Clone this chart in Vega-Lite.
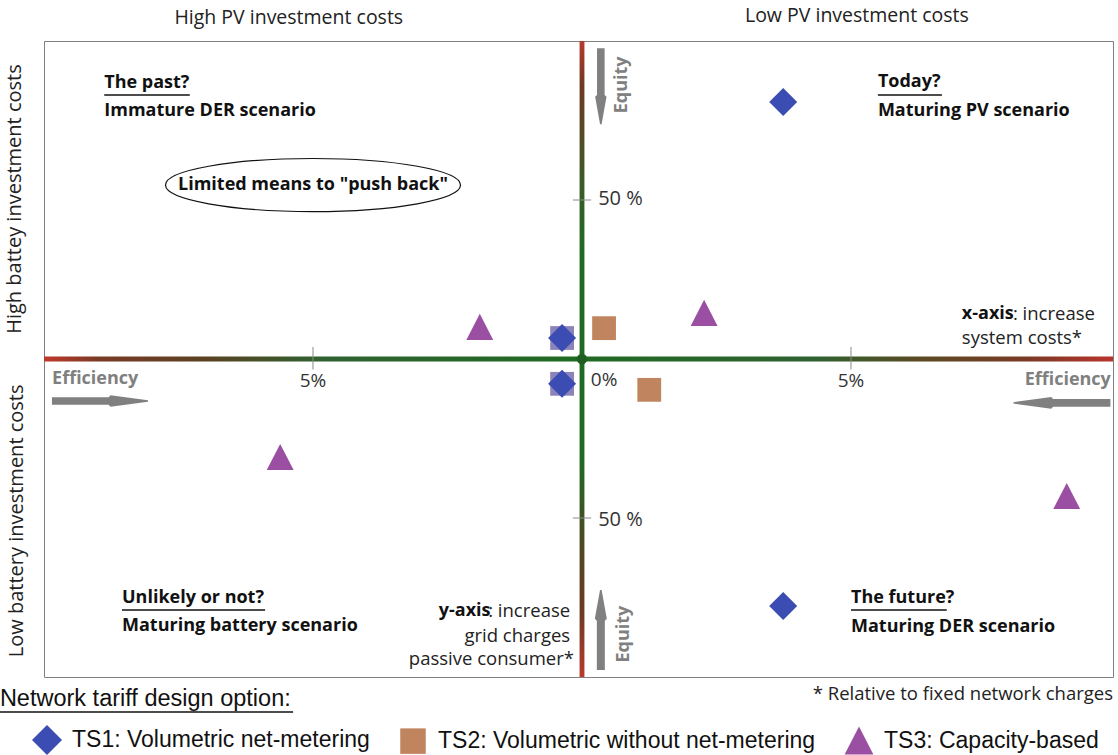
{
  "$schema": "https://vega.github.io/schema/vega-lite/v6.json",
  "width": 1069,
  "height": 636,
  "autosize": {"type": "none"},
  "padding": {"left": 44, "top": 41, "right": 5, "bottom": 78},
  "background": "white",
  "config": {"view": {"stroke": "#808080", "strokeWidth": 1}, "font": "Open Sans"},
  "encoding": {
    "x": {"field": "x", "type": "quantitative", "scale": {"domain": [-10, 9.87], "nice": false, "zero": false}, "axis": null},
    "y": {"field": "y", "type": "quantitative", "scale": {"domain": [-100, 100], "nice": false, "zero": false}, "axis": null}
  },
  "layer": [
    {
      "data": {"values": [{"x": -10, "x2": 9.87, "y": -0.8, "y2": 0.8}]},
      "mark": {"type": "rect", "fill": {"gradient": "linear", "x1": 0, "x2": 1, "y1": 0, "y2": 0, "stops": [
        {"offset": 0, "color": "#c0392b"}, {"offset": 0.05, "color": "#7a3a25"}, {"offset": 0.15, "color": "#5a4122"},
        {"offset": 0.26, "color": "#2f6130"}, {"offset": 0.5, "color": "#1f6a22"}, {"offset": 0.72, "color": "#2f6130"},
        {"offset": 0.82, "color": "#5a4a22"}, {"offset": 0.92, "color": "#7a3a25"}, {"offset": 1, "color": "#b8342c"}]}},
      "encoding": {"x2": {"field": "x2"}, "y2": {"field": "y2"}}
    },
    {
      "data": {"values": [{"x": -0.045, "x2": 0.045, "y": -100, "y2": 100}]},
      "mark": {"type": "rect", "fill": {"gradient": "linear", "x1": 0, "x2": 0, "y1": 0, "y2": 1, "stops": [
        {"offset": 0, "color": "#b83a2c"}, {"offset": 0.07, "color": "#6e3a22"}, {"offset": 0.22, "color": "#3c5a28"},
        {"offset": 0.33, "color": "#1f6a22"}, {"offset": 0.66, "color": "#1f6a22"}, {"offset": 0.78, "color": "#4a4a22"},
        {"offset": 0.9, "color": "#6e3a22"}, {"offset": 1, "color": "#b83a2c"}]}},
      "encoding": {"x2": {"field": "x2"}, "y2": {"field": "y2"}}
    },
    {
      "data": {"values": [{"x": 0, "y": 0}]},
      "mark": {"type": "point", "shape": "circle", "filled": true, "opacity": 1, "size": 110, "color": "#1e5e1e"}
    },
    {
      "data": {"values": [{"x": -5, "y": -3.3, "y2": 3.8}, {"x": 5, "y": -3.3, "y2": 3.8}]},
      "mark": {"type": "rule", "color": "#8a8a8a", "strokeWidth": 1},
      "encoding": {"y2": {"field": "y2"}}
    },
    {
      "data": {"values": [{"x": -0.17, "x2": 0.17, "y": 50}, {"x": -0.17, "x2": 0.17, "y": -50}]},
      "mark": {"type": "rule", "color": "#8a8a8a", "strokeWidth": 1},
      "encoding": {"x2": {"field": "x2"}}
    },
    {
      "data": {"values": [{"x": -0.37, "y": 6.6}, {"x": -0.37, "y": -7.8}]},
      "mark": {"type": "point", "filled": true, "opacity": 1, "size": 784, "strokeWidth": 0, "shape": "M-0.85,-0.85H0.85V0.85H-0.85Z", "color": "#8c84b8"}
    },
    {
      "data": {"values": [
        {"series": "TS1: Volumetric net-metering", "x": 3.74, "y": 80.8},
        {"series": "TS1: Volumetric net-metering", "x": -0.37, "y": 6.6},
        {"series": "TS1: Volumetric net-metering", "x": -0.37, "y": -7.8},
        {"series": "TS1: Volumetric net-metering", "x": 3.74, "y": -77.7},
        {"series": "TS2: Volumetric without net-metering", "x": 0.41, "y": 9.7},
        {"series": "TS2: Volumetric without net-metering", "x": 1.25, "y": -9.7},
        {"series": "TS3: Capacity-based", "x": -1.9, "y": 10.1},
        {"series": "TS3: Capacity-based", "x": 2.27, "y": 14.5},
        {"series": "TS3: Capacity-based", "x": -5.61, "y": -30.8},
        {"series": "TS3: Capacity-based", "x": 9.01, "y": -43.1}
      ]},
      "mark": {"type": "point", "filled": true, "opacity": 1, "size": 784, "strokeWidth": 0},
      "encoding": {
        "shape": {"field": "series", "type": "nominal",
          "scale": {"domain": ["TS1: Volumetric net-metering", "TS2: Volumetric without net-metering", "TS3: Capacity-based"],
                    "range": ["diamond", "M-0.85,-0.85H0.85V0.85H-0.85Z", "M0,-0.93L0.96,0.93L-0.96,0.93Z"]},
          "legend": {"title": null, "orient": "none", "legendX": -12, "legendY": 684, "direction": "horizontal", "symbolSize": 900,
                     "labelFont": "Liberation Sans", "labelFontSize": 23, "labelColor": "#111", "labelOffset": 10, "columnPadding": 28,
                     "symbolOpacity": 1, "symbolStrokeWidth": 0, "labelLimit": 600}},
        "color": {"field": "series", "type": "nominal",
          "scale": {"domain": ["TS1: Volumetric net-metering", "TS2: Volumetric without net-metering", "TS3: Capacity-based"],
                    "range": ["#3b4db3", "#c0855e", "#9b4fa3"]},
          "legend": {"title": null, "orient": "none", "legendX": -12, "legendY": 684, "direction": "horizontal", "symbolSize": 900,
                     "labelFont": "Liberation Sans", "labelFontSize": 23, "labelColor": "#111", "labelOffset": 10, "columnPadding": 28,
                     "symbolOpacity": 1, "symbolStrokeWidth": 0, "labelLimit": 600}}
      }
    },
    {
      "data": {"values": [{"x": -5.0, "y": 54.7}]},
      "mark": {"type": "point", "filled": false, "opacity": 1, "size": 87025, "stroke": "#111", "strokeWidth": 1.2,
               "shape": "M-1,0C-1,-0.0994,-0.5523,-0.18,0,-0.18C0.5523,-0.18,1,-0.0994,1,0C1,0.0994,0.5523,0.18,0,0.18C-0.5523,0.18,-1,0.0994,-1,0Z"}
    },
    {
      "data": {"values": [{"x": -8.96, "y": -13.2}]},
      "mark": {"type": "point", "filled": true, "opacity": 1, "size": 9216, "color": "#808080", "strokeWidth": 0, "angle": 0,
               "shape": "M-1,-0.08L0.18,-0.08L0.22,-0.12L1,-0.015L1,0.015L0.22,0.12L0.18,0.08L-1,0.08Z"}
    },
    {
      "data": {"values": [{"x": 8.92, "y": -13.8}]},
      "mark": {"type": "point", "filled": true, "opacity": 1, "size": 9409, "color": "#808080", "strokeWidth": 0, "angle": 180,
               "shape": "M-1,-0.08L0.18,-0.08L0.22,-0.12L1,-0.015L1,0.015L0.22,0.12L0.18,0.08L-1,0.08Z"}
    },
    {
      "data": {"values": [{"x": 0.35, "y": 85.8}]},
      "mark": {"type": "point", "filled": true, "opacity": 1, "size": 5776, "color": "#808080", "strokeWidth": 0, "angle": 90,
               "shape": "M-1,-0.1L0.23,-0.1L0.28,-0.15L1,-0.02L1,0.02L0.28,0.15L0.23,0.1L-1,0.1Z"}
    },
    {
      "data": {"values": [{"x": 0.35, "y": -85.2}]},
      "mark": {"type": "point", "filled": true, "opacity": 1, "size": 6400, "color": "#808080", "strokeWidth": 0, "angle": 270,
               "shape": "M-1,-0.1L0.23,-0.1L0.28,-0.15L1,-0.02L1,0.02L0.28,0.15L0.23,0.1L-1,0.1Z"}
    },
    {
      "data": {"values": [
        {"x": -8.88, "x2": -7.29, "y": 83.0},
        {"x": 5.5, "x2": 6.69, "y": 83.0},
        {"x": -8.55, "x2": -5.89, "y": -78.9},
        {"x": 5.0, "x2": 6.78, "y": -78.9}
      ]},
      "mark": {"type": "rule", "color": "#111", "strokeWidth": 1.5},
      "encoding": {"x2": {"field": "x2"}}
    },
    {
      "data": {"values": [{"x": -10.82, "x2": -5.37, "y": -111.0}]},
      "mark": {"type": "rule", "color": "#111", "strokeWidth": 1.3},
      "encoding": {"x2": {"field": "x2"}}
    },
    {
      "data": {"values": [
        {"x": -8.88, "y": 86.8, "t": "The past?"},
        {"x": -8.88, "y": 78.0, "t": "Immature DER scenario"},
        {"x": 5.5, "y": 87.1, "t": "Today?"},
        {"x": 5.5, "y": 78.0, "t": "Maturing PV scenario"},
        {"x": -8.55, "y": -75.2, "t": "Unlikely or not?"},
        {"x": -8.55, "y": -84.0, "t": "Maturing battery scenario"},
        {"x": 5.0, "y": -75.2, "t": "The future?"},
        {"x": 5.0, "y": -84.3, "t": "Maturing DER scenario"},
        {"x": 7.06, "y": 14.2, "t": "x-axis"}
      ]},
      "mark": {"type": "text", "align": "left", "baseline": "middle", "font": "Open Sans", "fontWeight": "bold", "fontSize": 18, "color": "#111"},
      "encoding": {"text": {"field": "t"}}
    },
    {
      "data": {"values": [{"x": -5.0, "y": 54.7, "t": "Limited means to \"push back\""}]},
      "mark": {"type": "text", "align": "center", "baseline": "middle", "font": "Open Sans", "fontWeight": "bold", "fontSize": 18, "color": "#111"},
      "encoding": {"text": {"field": "t"}}
    },
    {
      "data": {"values": [{"x": -1.7, "y": -79.2, "t": "y-axis"}]},
      "mark": {"type": "text", "align": "right", "baseline": "middle", "font": "Open Sans", "fontWeight": "bold", "fontSize": 18, "color": "#111"},
      "encoding": {"text": {"field": "t"}}
    },
    {
      "data": {"values": [
        {"x": 8.01, "y": 14.2, "t": ":  increase"},
        {"x": 7.06, "y": 6.6, "t": "system costs*"}
      ]},
      "mark": {"type": "text", "align": "left", "baseline": "middle", "font": "Open Sans", "fontSize": 18.5, "color": "#222"},
      "encoding": {"text": {"field": "t"}}
    },
    {
      "data": {"values": [
        {"x": -0.22, "y": -79.2, "t": ": increase"},
        {"x": -0.22, "y": -87.1, "t": "grid charges"},
        {"x": -0.15, "y": -94.3, "t": "passive consumer*"}
      ]},
      "mark": {"type": "text", "align": "right", "baseline": "middle", "font": "Open Sans", "fontSize": 18.5, "color": "#222"},
      "encoding": {"text": {"field": "t"}}
    },
    {
      "data": {"values": [{"x": 9.87, "y": -105.3, "t": "* Relative to fixed network charges"}]},
      "mark": {"type": "text", "align": "right", "baseline": "middle", "font": "Open Sans", "fontSize": 18.5, "color": "#222"},
      "encoding": {"text": {"field": "t"}}
    },
    {
      "data": {"values": [
        {"x": -5, "y": -6.9, "t": "5%"},
        {"x": 5, "y": -6.9, "t": "5%"},
        {"x": 0.41, "y": -6.6, "t": "0%"}
      ]},
      "mark": {"type": "text", "align": "center", "baseline": "middle", "font": "Open Sans", "fontSize": 19, "color": "#333"},
      "encoding": {"text": {"field": "t"}}
    },
    {
      "data": {"values": [
        {"x": 0.3, "y": 50.3, "t": "50 %"},
        {"x": 0.3, "y": -50.6, "t": "50 %"}
      ]},
      "mark": {"type": "text", "align": "left", "baseline": "middle", "font": "Open Sans", "fontSize": 20, "color": "#333"},
      "encoding": {"text": {"field": "t"}}
    },
    {
      "data": {"values": [{"x": -9.85, "y": -6.3, "t": "Efficiency"}]},
      "mark": {"type": "text", "align": "left", "baseline": "middle", "font": "Open Sans", "fontWeight": "bold", "fontSize": 18, "color": "#808080"},
      "encoding": {"text": {"field": "t"}}
    },
    {
      "data": {"values": [{"x": 9.83, "y": -6.6, "t": "Efficiency"}]},
      "mark": {"type": "text", "align": "right", "baseline": "middle", "font": "Open Sans", "fontWeight": "bold", "fontSize": 18, "color": "#808080"},
      "encoding": {"text": {"field": "t"}}
    },
    {
      "data": {"values": [{"x": 0.74, "y": 86.2, "t": "Equity"}, {"x": 0.78, "y": -86.5, "t": "Equity"}]},
      "mark": {"type": "text", "align": "center", "baseline": "middle", "angle": 270, "font": "Open Sans", "fontWeight": "bold", "fontSize": 18, "color": "#808080"},
      "encoding": {"text": {"field": "t"}}
    },
    {
      "data": {"values": [
        {"x": -5.45, "y": 107.2, "t": "High PV investment costs"},
        {"x": 5.11, "y": 107.9, "t": "Low PV investment costs"}
      ]},
      "mark": {"type": "text", "align": "center", "baseline": "middle", "font": "Open Sans", "fontSize": 19.5, "color": "#222"},
      "encoding": {"text": {"field": "t"}}
    },
    {
      "data": {"values": [
        {"x": -10.54, "y": 50.3, "t": "High battey investment costs"},
        {"x": -10.5, "y": -50.9, "t": "Low battery investment costs"}
      ]},
      "mark": {"type": "text", "align": "center", "baseline": "middle", "angle": 270, "font": "Open Sans", "fontSize": 20, "color": "#222"},
      "encoding": {"text": {"field": "t"}}
    },
    {
      "data": {"values": [{"x": -10.82, "y": -106.9, "t": "Network tariff design option:"}]},
      "mark": {"type": "text", "align": "left", "baseline": "middle", "font": "Liberation Sans", "fontSize": 23.5, "color": "#111"},
      "encoding": {"text": {"field": "t"}}
    }
  ]
}
